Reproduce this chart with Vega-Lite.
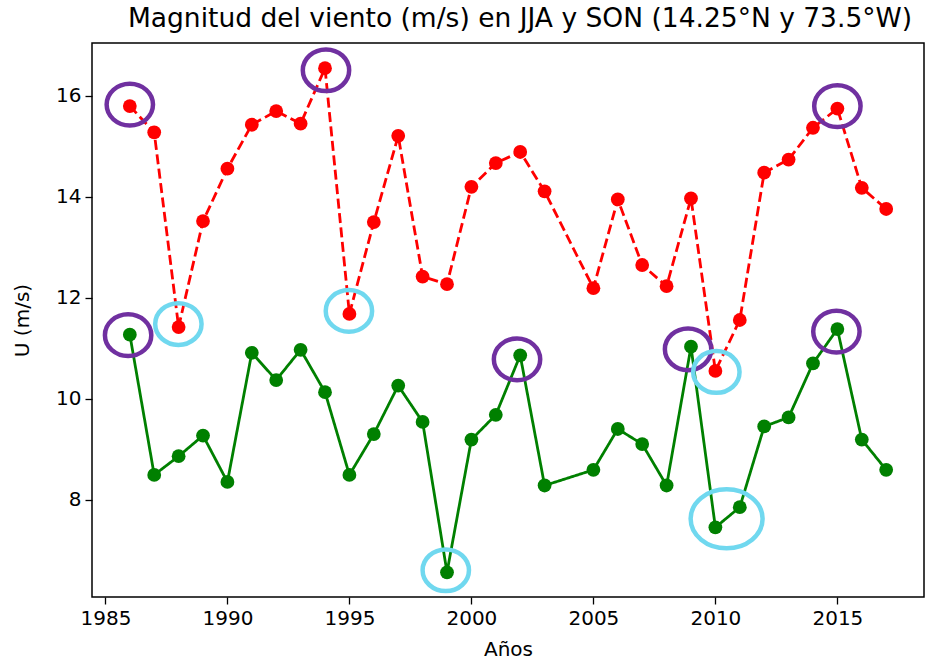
{
  "$schema": "https://vega.github.io/schema/vega-lite/v6.json",
  "autosize": {"type": "none"},
  "width": 832,
  "height": 554,
  "padding": {"left": 92, "top": 43, "right": 1, "bottom": 65},
  "background": "white",
  "title": {
    "text": "Magnitud del viento (m/s) en JJA y SON (14.25°N y 73.5°W)",
    "font": "DejaVu Sans",
    "fontSize": 26.5,
    "fontWeight": "normal",
    "color": "#000000",
    "anchor": "middle",
    "dx": 12,
    "offset": 8
  },
  "config": {
    "view": {"stroke": "#000000", "strokeWidth": 1.5},
    "axis": {
      "domain": false,
      "grid": false,
      "tickColor": "#000000",
      "tickSize": 7,
      "tickWidth": 1.3,
      "labelColor": "#000000",
      "labelFont": "DejaVu Sans",
      "labelFontSize": 20,
      "labelPadding": 4,
      "titleColor": "#000000",
      "titleFont": "DejaVu Sans",
      "titleFontSize": 20,
      "titleFontWeight": "normal"
    }
  },
  "datasets": {
    "series": [
      {"anio": 1986, "temporada": "JJA", "u": 15.80},
      {"anio": 1987, "temporada": "JJA", "u": 15.28},
      {"anio": 1988, "temporada": "JJA", "u": 11.42},
      {"anio": 1989, "temporada": "JJA", "u": 13.52},
      {"anio": 1990, "temporada": "JJA", "u": 14.56},
      {"anio": 1991, "temporada": "JJA", "u": 15.43},
      {"anio": 1992, "temporada": "JJA", "u": 15.70},
      {"anio": 1993, "temporada": "JJA", "u": 15.45},
      {"anio": 1994, "temporada": "JJA", "u": 16.55},
      {"anio": 1995, "temporada": "JJA", "u": 11.68},
      {"anio": 1996, "temporada": "JJA", "u": 13.50},
      {"anio": 1997, "temporada": "JJA", "u": 15.21},
      {"anio": 1998, "temporada": "JJA", "u": 12.42},
      {"anio": 1999, "temporada": "JJA", "u": 12.27},
      {"anio": 2000, "temporada": "JJA", "u": 14.20},
      {"anio": 2001, "temporada": "JJA", "u": 14.67},
      {"anio": 2002, "temporada": "JJA", "u": 14.89},
      {"anio": 2003, "temporada": "JJA", "u": 14.11},
      {"anio": 2005, "temporada": "JJA", "u": 12.19},
      {"anio": 2006, "temporada": "JJA", "u": 13.95},
      {"anio": 2007, "temporada": "JJA", "u": 12.65},
      {"anio": 2008, "temporada": "JJA", "u": 12.23},
      {"anio": 2009, "temporada": "JJA", "u": 13.97},
      {"anio": 2010, "temporada": "JJA", "u": 10.55},
      {"anio": 2011, "temporada": "JJA", "u": 11.56},
      {"anio": 2012, "temporada": "JJA", "u": 14.48},
      {"anio": 2013, "temporada": "JJA", "u": 14.74},
      {"anio": 2014, "temporada": "JJA", "u": 15.37},
      {"anio": 2015, "temporada": "JJA", "u": 15.75},
      {"anio": 2016, "temporada": "JJA", "u": 14.18},
      {"anio": 2017, "temporada": "JJA", "u": 13.76},
      {"anio": 1986, "temporada": "SON", "u": 11.27},
      {"anio": 1987, "temporada": "SON", "u": 8.49},
      {"anio": 1988, "temporada": "SON", "u": 8.86},
      {"anio": 1989, "temporada": "SON", "u": 9.27},
      {"anio": 1990, "temporada": "SON", "u": 8.35},
      {"anio": 1991, "temporada": "SON", "u": 10.91},
      {"anio": 1992, "temporada": "SON", "u": 10.37},
      {"anio": 1993, "temporada": "SON", "u": 10.97},
      {"anio": 1994, "temporada": "SON", "u": 10.13},
      {"anio": 1995, "temporada": "SON", "u": 8.49},
      {"anio": 1996, "temporada": "SON", "u": 9.30},
      {"anio": 1997, "temporada": "SON", "u": 10.26},
      {"anio": 1998, "temporada": "SON", "u": 9.54},
      {"anio": 1999, "temporada": "SON", "u": 6.56},
      {"anio": 2000, "temporada": "SON", "u": 9.19},
      {"anio": 2001, "temporada": "SON", "u": 9.68},
      {"anio": 2002, "temporada": "SON", "u": 10.86},
      {"anio": 2003, "temporada": "SON", "u": 8.28},
      {"anio": 2005, "temporada": "SON", "u": 8.59},
      {"anio": 2006, "temporada": "SON", "u": 9.40},
      {"anio": 2007, "temporada": "SON", "u": 9.10},
      {"anio": 2008, "temporada": "SON", "u": 8.28},
      {"anio": 2009, "temporada": "SON", "u": 11.03},
      {"anio": 2010, "temporada": "SON", "u": 7.45},
      {"anio": 2011, "temporada": "SON", "u": 7.85},
      {"anio": 2012, "temporada": "SON", "u": 9.45},
      {"anio": 2013, "temporada": "SON", "u": 9.63},
      {"anio": 2014, "temporada": "SON", "u": 10.70},
      {"anio": 2015, "temporada": "SON", "u": 11.38},
      {"anio": 2016, "temporada": "SON", "u": 9.19},
      {"anio": 2017, "temporada": "SON", "u": 8.59}
    ],
    "anillos": [
      {"anio": 1986.0, "u": 15.83, "tipo": "maximo"},
      {"anio": 1994.04, "u": 16.51, "tipo": "maximo"},
      {"anio": 2015.0, "u": 15.80, "tipo": "maximo"},
      {"anio": 1985.93, "u": 11.26, "tipo": "maximo"},
      {"anio": 2001.87, "u": 10.78, "tipo": "maximo"},
      {"anio": 2008.88, "u": 10.98, "tipo": "maximo"},
      {"anio": 2014.96, "u": 11.33, "tipo": "maximo"},
      {"anio": 1987.99, "u": 11.48, "tipo": "minimo"},
      {"anio": 1994.98, "u": 11.74, "tipo": "minimo"},
      {"anio": 2010.04, "u": 10.53, "tipo": "minimo"},
      {"anio": 1998.95, "u": 6.60, "tipo": "minimo"},
      {"anio": 2010.46, "u": 7.62, "tipo": "minimo_doble"}
    ]
  },
  "encoding": {
    "x": {
      "field": "anio",
      "type": "quantitative",
      "scale": {"domain": [1984.45, 2018.55], "nice": false, "zero": false},
      "axis": {"title": "Años", "values": [1985, 1990, 1995, 2000, 2005, 2010, 2015], "format": "d", "titlePadding": 11}
    },
    "y": {
      "field": "u",
      "type": "quantitative",
      "scale": {"domain": [6.07, 17.05], "nice": false, "zero": false},
      "axis": {"title": "U (m/s)", "values": [8, 10, 12, 14, 16], "titlePadding": 23}
    }
  },
  "layer": [
    {
      "data": {"name": "series"},
      "mark": {"type": "line", "strokeWidth": 2.8},
      "encoding": {
        "color": {"field": "temporada", "type": "nominal", "scale": {"domain": ["JJA", "SON"], "range": ["#ff0000", "#008000"]}, "legend": null},
        "strokeDash": {"field": "temporada", "type": "nominal", "scale": {"domain": ["JJA", "SON"], "range": [[10, 4.5], [1, 0]]}, "legend": null},
        "order": {"field": "anio", "type": "quantitative"}
      }
    },
    {
      "data": {"name": "series"},
      "mark": {"type": "point", "filled": true, "shape": "circle", "size": 190, "opacity": 1, "strokeWidth": 0},
      "encoding": {
        "color": {"field": "temporada", "type": "nominal", "scale": {"domain": ["JJA", "SON"], "range": ["#ff0000", "#008000"]}, "legend": null}
      }
    },
    {
      "data": {"name": "anillos"},
      "transform": [{"filter": "datum.tipo !== 'minimo_doble'"}],
      "mark": {"type": "point", "filled": false, "shape": "M-1,0A1,0.9,0,1,1,1,0A1,0.9,0,1,1,-1,0Z", "size": 2150, "strokeWidth": 4.5, "opacity": 1},
      "encoding": {
        "stroke": {"field": "tipo", "type": "nominal", "scale": {"domain": ["maximo", "minimo", "minimo_doble"], "range": ["#7030a0", "#70d8ef", "#70d8ef"]}, "legend": null}
      }
    },
    {
      "data": {"name": "anillos"},
      "transform": [{"filter": "datum.tipo === 'minimo_doble'"}],
      "mark": {"type": "point", "filled": false, "shape": "M-1,0A1,0.82,0,1,1,1,0A1,0.82,0,1,1,-1,0Z", "size": 5180, "strokeWidth": 4.5, "opacity": 1},
      "encoding": {
        "stroke": {"field": "tipo", "type": "nominal", "scale": {"domain": ["maximo", "minimo", "minimo_doble"], "range": ["#7030a0", "#70d8ef", "#70d8ef"]}, "legend": null}
      }
    }
  ]
}
